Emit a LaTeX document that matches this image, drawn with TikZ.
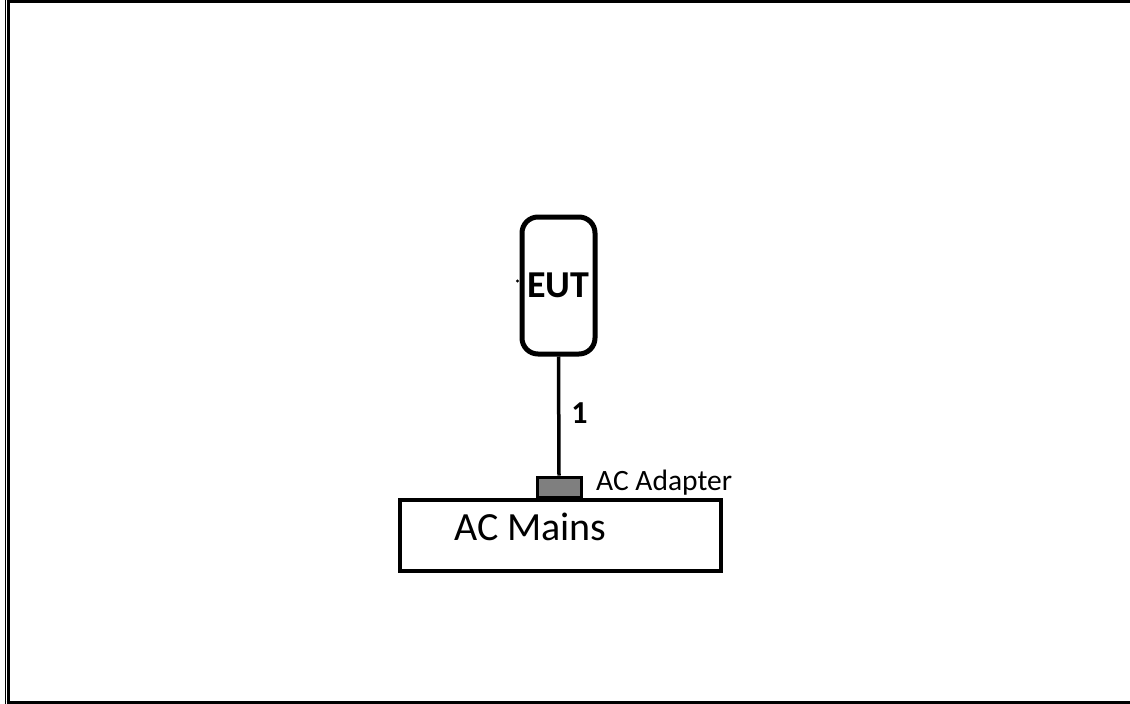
\documentclass[tikz,border=0pt]{standalone}
\usepackage{fontspec}
\setmainfont{Carlito}
\definecolor{adaptergray}{RGB}{127,127,127}
\begin{document}
\begin{tikzpicture}[x=1pt,y=-1pt,
  frame/.style={line width=3pt},
  euttext/.style={font=\bfseries\fontsize{38}{40}\selectfont},
  wire/.style={line width=3.5pt}]
\useasboundingbox (0,0) rectangle (1130,704);
\fill[white] (0,0) rectangle (1130,704);
% frame
\draw[line width=1.6pt] (5.5,0) -- (5.5,704);
\draw[frame] (8,0) -- (8,704);
\draw[frame] (6.5,1.5) -- (1130,1.5);
\draw[frame] (6.5,702.5) -- (1130,702.5);
% EUT
\node[draw, line width=5pt, rounded corners=16pt, minimum width=73pt, minimum height=137pt, inner sep=0pt, euttext] (eut) at (558.5,285.5) {EUT};
\fill (517.5,281) circle (1.6pt);
% adapter and mains
\node[draw, fill=adaptergray, line width=3pt, minimum width=44pt, minimum height=20pt, inner sep=0pt] (ad) at (559,487) {};
\node[draw, line width=4pt, minimum width=321pt, minimum height=71pt, inner sep=0pt] (mains) at (560.5,535.5) {};
\node[anchor=base west, inner sep=0pt, font=\fontsize{40}{44}\selectfont] (mainstext) at (454,540) {AC Mains};
\node[anchor=base west, inner sep=0pt, font=\fontsize{29.5}{31}\selectfont] (adtext) at (596,490) {AC Adapter};
% cable
\draw[wire] (eut.south) -- (ad.north);
\node[font=\bfseries\fontsize{32}{34}\selectfont, inner sep=0pt] (one) at (579.5,413) {1};
\end{tikzpicture}
\end{document}
